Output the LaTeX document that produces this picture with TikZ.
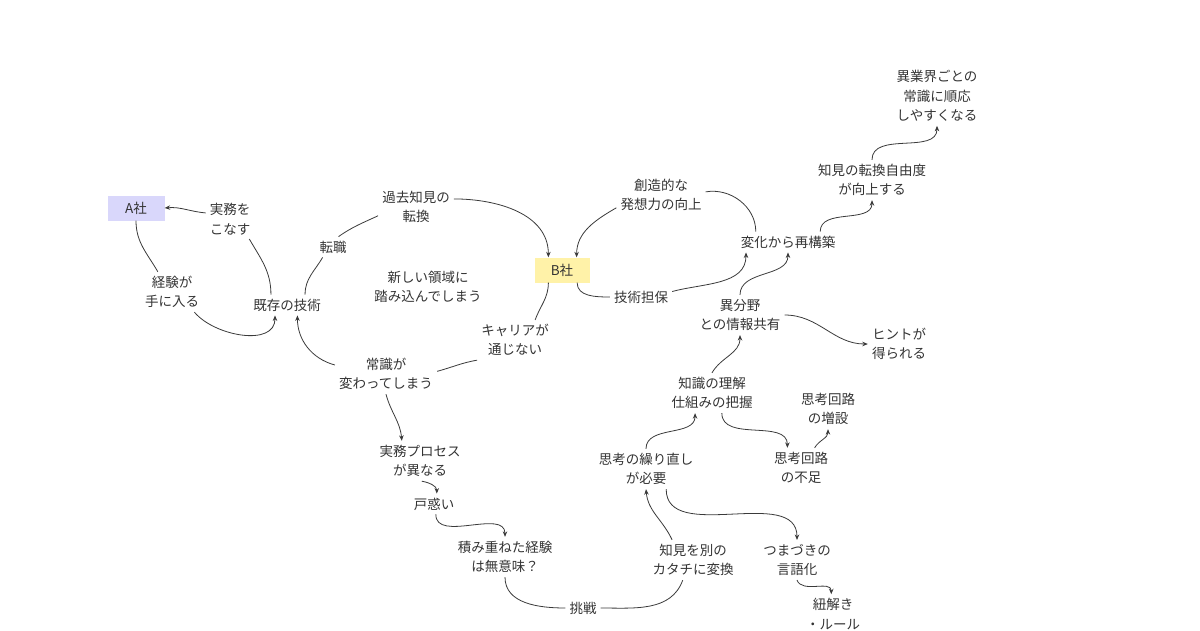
\documentclass[tikz,border=0pt]{standalone}
\usepackage{fontspec}
\setmainfont{Noto Sans CJK JP}
\usepackage{tikz}
\usetikzlibrary{arrows.meta}
\definecolor{MapInk}{HTML}{333333}
\definecolor{MapLine}{HTML}{3A3A3A}
\definecolor{MapLavender}{HTML}{D9D7FB}
\definecolor{MapYellow}{HTML}{FFF2A8}

\begin{document}
\begin{tikzpicture}[x=1pt,y=1pt,
  word/.style={align=center,inner sep=4pt,text=MapInk,font=\fontsize{13.5}{19.5}\selectfont},
  firm/.style={word,minimum height=25pt},
  link/.style={draw=MapLine,line width=0.8pt},
  linkto/.style={link,-{Stealth[length=5.5pt,width=4.5pt]}}]
  \useasboundingbox (0,0) rectangle (1200,-630);

  \node[firm,fill=MapLavender,minimum width=57pt] (A) at (136,-208) {A社};
  \node[firm,fill=MapYellow,minimum width=55pt] (B) at (562,-270) {B社};

  \node[word] (jitsumu) at (230,-219) {実務を\\こなす};
  \node[word] (keiken) at (172,-292) {経験が\\手に入る};
  \node[word] (kizon) at (287,-305) {既存の技術};
  \node[word] (tenshoku) at (333,-247) {転職};
  \node[word] (kako) at (416,-207) {過去知見の\\転換};
  \node[word] (ryoiki) at (428,-287) {新しい領域に\\踏み込んでしまう};
  \node[word] (career) at (515,-340) {キャリアが\\通じない};
  \node[word] (joushiki) at (386,-374) {常識が\\変わってしまう};
  \node[word] (process) at (420,-461) {実務プロセス\\が異なる};
  \node[word] (tomadoi) at (434,-504) {戸惑い};
  \node[word] (muimi) at (505,-557) {積み重ねた経験\\は無意味？};
  \node[word] (chousen) at (583,-608) {挑戦};
  \node[word] (katachi) at (693,-560) {知見を別の\\カタチに変換};
  \node[word] (naoshi) at (646,-469) {思考の繰り直し\\が必要};
  \node[word] (tsumazuki) at (797,-560) {つまづきの\\言語化};
  \node[word] (himotoki) at (833,-614) {紐解き\\・ルール};
  \node[word] (rikai) at (712,-393) {知識の理解\\仕組みの把握};
  \node[word] (fusoku) at (801,-468) {思考回路\\の不足};
  \node[word] (zousetsu) at (828,-409) {思考回路\\の増設};
  \node[word] (kyoyu) at (740,-315) {異分野\\との情報共有};
  \node[word] (hint) at (899,-344) {ヒントが\\得られる};
  \node[word] (saikouchiku) at (788,-242) {変化から再構築};
  \node[word] (souzou) at (661,-195) {創造的な\\発想力の向上};
  \node[word] (tanpo) at (641,-297) {技術担保};
  \node[word] (jiyudo) at (872,-180) {知見の転換自由度\\が向上する};
  \node[word] (junnou) at (937,-96) {異業界ごとの\\常識に順応\\しやすくなる};

  \draw[linkto] (jitsumu.166) to[out=175,in=5] (A.east);
  \draw[link] (jitsumu.-46) to[out=-60,in=90] (kizon.147);
  \draw[link] (A.south) to[out=-90,in=120] (keiken.125);
  \draw[linkto] (keiken.-42) to[out=-50,in=-90] (kizon.-139);
  \draw[link] (kizon.30) to[out=90,in=-120] (tenshoku.-135);
  \draw[link] (tenshoku.62) to[out=35,in=-155] (kako.-167);
  \draw[linkto] (kako.12) to[out=0,in=90] (B.137);
  \draw[link] (B.-137) to[out=-90,in=70] (career.45);
  \draw[link] (career.-152) to[out=-170,in=15] (joushiki.3);
  \draw[linkto] (joushiki.170) to[out=165,in=-90] (kizon.-45);
  \draw[linkto] (joushiki.south) to[out=-75,in=95] (process.132);
  \draw[linkto] (process.-85) to[out=-10,in=90] (tomadoi.75);
  \draw[linkto] (tomadoi.-80) to[out=-90,in=90] (muimi.north);
  \draw[link] (muimi.south) to[out=-90,in=180] (chousen.west);
  \draw[link] (chousen.east) to[out=0,in=-110] (katachi.-117);
  \draw[linkto] (katachi.136) to[out=115,in=-85] (naoshi.south);
  \draw[linkto] (naoshi.north) to[out=90,in=-90] (rikai.-130);
  \draw[linkto] (rikai.-64) to[out=-90,in=90] (fusoku.124);
  \draw[linkto] (fusoku.56) to[out=60,in=-90] (zousetsu.south);
  \draw[linkto] (rikai.north) to[out=60,in=-90] (kyoyu.south);
  \draw[linkto] (kyoyu.east) to[out=0,in=180] (hint.west);
  \draw[linkto] (kyoyu.north) to[out=90,in=-90] (saikouchiku.south);
  \draw[linkto] (souzou.-164) to[out=-150,in=90] (B.41);
  \draw[link] (B.-40) to[out=-90,in=180] (tanpo.west);
  \draw[linkto] (tanpo.10) to[out=15,in=-90] (saikouchiku.-166);
  \draw[link] (souzou.4) to[out=10,in=90] (saikouchiku.162);
  \draw[linkto] (saikouchiku.18) to[out=90,in=-90] (jiyudo.south);
  \draw[linkto] (jiyudo.north) to[out=90,in=-90] (junnou.south);
  \draw[linkto] (naoshi.-45) to[out=-90,in=90] (tsumazuki.north);
  \draw[linkto] (tsumazuki.south) to[out=-70,in=90] (himotoki.95);
\end{tikzpicture}
\end{document}
